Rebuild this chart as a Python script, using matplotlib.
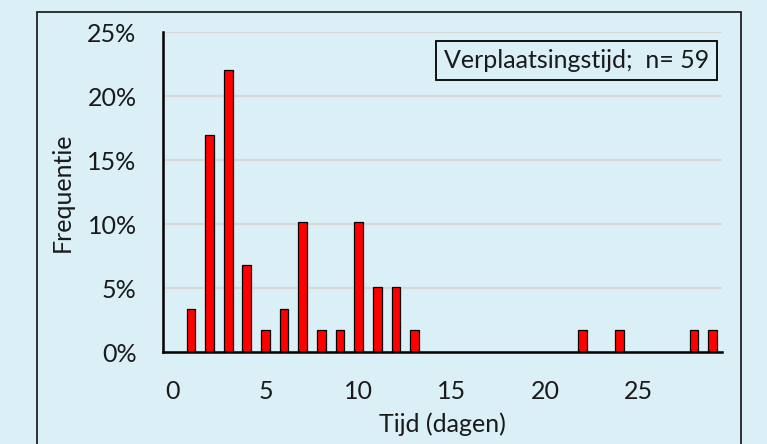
import numpy as np
import matplotlib.pyplot as plt
from matplotlib.patches import Rectangle

n = 59
days = [1, 2, 3, 4, 5, 6, 7, 8, 9, 10, 11, 12, 13, 22, 24, 28, 29]
counts = [2, 10, 13, 4, 1, 2, 6, 1, 1, 6, 3, 3, 1, 1, 1, 1, 1]
xticks = [0, 5, 10, 15, 20, 25]
yticks = [0, 5, 10, 15, 20, 25]

freq = np.array(counts) / n * 100

bg = "#DAEFF6"
txt = "#1a1a1a"
fs = 18
plt.rcParams["font.family"] = ["Lato", "DejaVu Sans"]

fig = plt.figure(figsize=(7.67, 4.44), dpi=100, facecolor=bg)
ax = fig.add_axes([163 / 767, 1 - 352 / 444, (722 - 163) / 767, (352 - 32) / 444])
ax.set_facecolor(bg)

ax.bar(days, freq, width=0.47, color="red", edgecolor="black", linewidth=0.9, zorder=3)

ax.set_xlim(-0.5, 29.5)
ax.set_ylim(0, 25)
ax.set_xticks(xticks)
ax.set_yticks(yticks)
ax.set_yticklabels([f"{v}%" for v in yticks])
ax.xaxis.set_tick_params(length=0, labelsize=fs, labelcolor=txt, pad=20)
ax.yaxis.set_tick_params(length=0, labelsize=fs, labelcolor=txt, pad=19)
ax.grid(axis="y", color="#D9D9D9", linewidth=1.5, zorder=0)
for s in ["top", "right"]:
    ax.spines[s].set_visible(False)
for s in ["left", "bottom"]:
    ax.spines[s].set_linewidth(1.8)
    ax.spines[s].set_zorder(4)

ax.set_xlabel("Tijd (dagen)", fontsize=fs, color=txt, labelpad=7)
ax.set_ylabel("Frequentie", fontsize=fs, color=txt, labelpad=10)

ax.text(0.977, 0.91, "Verplaatsingstijd;  n= 59", transform=ax.transAxes,
        ha="right", va="center", fontsize=fs, color=txt,
        bbox=dict(boxstyle="square,pad=0.32", facecolor=bg, edgecolor="black", linewidth=1.3))

fig.patches.append(Rectangle((37 / 767, -0.05), (741 - 37) / 767, 1.05 - 12 / 444,
                             transform=fig.transFigure, fill=False,
                             edgecolor="#222222", linewidth=1.3))

fig.savefig("out.png", dpi=100, facecolor=bg)
